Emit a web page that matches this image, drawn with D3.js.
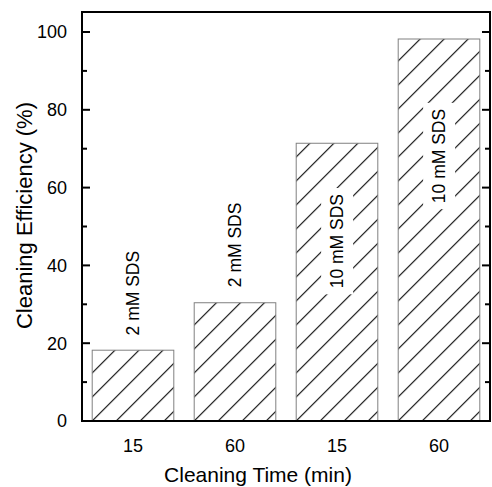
<!DOCTYPE html>
<html>
<head>
<meta charset="utf-8">
<script src="https://cdn.jsdelivr.net/npm/d3@7"></script>
<style>
  body { margin: 0; background: #fff; }
  svg text { font-family: "Liberation Sans", Arial, sans-serif; fill: #000; }
</style>
</head>
<body>
<svg id="chart"></svg>
<script>
// Data
const categories = ['15 (2 mM)', '60 (2 mM)', '15 (10 mM)', '60 (10 mM)'];
const tickLabels = ['15', '60', '15', '60'];
const efficiency = [18.2, 30.4, 71.4, 98.2];
const barLabels = ['2 mM SDS', '2 mM SDS', '10 mM SDS', '10 mM SDS'];
// where each label starts, in % units (labels 3 and 4 sit inside the bars)
const labelStart = [22.0, 34.4, 34.1, 56.0];
const labelInside = [false, false, true, true];
const yTicks = [0, 20, 40, 60, 80, 100];
const yMinorTicks = [10, 30, 50, 70, 90];

const width = 492, height = 487;
const margin = {top: 12, right: 2, bottom: 66, left: 82};

const svg = d3.select('#chart')
    .attr('width', width)
    .attr('height', height);

const x = d3.scaleBand()
    .domain(categories)
    .range([margin.left, width - margin.right])
    .paddingInner(0.2)
    .paddingOuter(0.1);

const y = d3.scaleLinear()
    .domain([0, 100])
    .range([421, 32]);

// Hatch pattern per bar, anchored at the bar's lower-left corner
const defs = svg.append('defs');
categories.forEach((c, i) => {
  const p = defs.append('pattern')
      .attr('id', 'hatch' + i)
      .attr('patternUnits', 'userSpaceOnUse')
      .attr('width', 24)
      .attr('height', 24)
      .attr('x', x(c))
      .attr('y', y(0));
  p.append('path')
      .attr('d', 'M-6,6L6,-6M0,24L24,0M18,30L30,18')
      .attr('stroke', '#000')
      .attr('stroke-width', 1.1)
      .attr('fill', 'none');
});

// Bars
svg.append('g').selectAll('rect')
    .data(efficiency)
    .join('rect')
    .attr('x', (d, i) => x(categories[i]))
    .attr('y', d => y(d))
    .attr('width', x.bandwidth())
    .attr('height', d => y(0) - y(d))
    .attr('fill', (d, i) => `url(#hatch${i})`)
    .attr('stroke', '#808080')
    .attr('stroke-width', 1);

// Bar labels
const labels = svg.append('g');
barLabels.forEach((t, i) => {
  const cx = x(categories[i]) + x.bandwidth() / 2;
  const g = labels.append('g')
      .attr('transform', `translate(${cx},${y(labelStart[i])}) rotate(-90)`);
  const bg = g.append('rect').attr('fill', '#fff');
  const txt = g.append('text')
      .attr('x', 0)
      .attr('y', 0)
      .attr('dy', '0.35em')
      .attr('font-size', 17.5)
      .text(t);
  if (labelInside[i]) {
    const b = txt.node().getBBox();
    bg.attr('x', b.x - 6).attr('y', b.y - 6)
      .attr('width', b.width + 12).attr('height', b.height + 12);
  } else {
    bg.remove();
  }
});

// Frame
svg.append('rect')
    .attr('x', margin.left)
    .attr('y', margin.top)
    .attr('width', width - margin.right - margin.left)
    .attr('height', y(0) - margin.top)
    .attr('fill', 'none')
    .attr('stroke', '#000')
    .attr('stroke-width', 2);

// Y axis ticks (left and right, pointing inward)
const xl = margin.left, xr = width - margin.right;
const ticks = svg.append('g').attr('stroke', '#000').attr('stroke-width', 2);
yTicks.forEach(v => {
  ticks.append('line').attr('x1', xl).attr('x2', xl + 8).attr('y1', y(v)).attr('y2', y(v));
  ticks.append('line').attr('x1', xr).attr('x2', xr - 8).attr('y1', y(v)).attr('y2', y(v));
});
yMinorTicks.forEach(v => {
  ticks.append('line').attr('x1', xl).attr('x2', xl + 5).attr('y1', y(v)).attr('y2', y(v));
  ticks.append('line').attr('x1', xr).attr('x2', xr - 5).attr('y1', y(v)).attr('y2', y(v));
});

svg.append('g').selectAll('text')
    .data(yTicks)
    .join('text')
    .attr('x', xl - 15)
    .attr('y', d => y(d))
    .attr('dy', '0.35em')
    .attr('text-anchor', 'end')
    .attr('font-size', 18)
    .text(d => d);

// X tick labels
svg.append('g').selectAll('text')
    .data(categories)
    .join('text')
    .attr('x', d => x(d) + x.bandwidth() / 2)
    .attr('y', 452)
    .attr('text-anchor', 'middle')
    .attr('font-size', 18)
    .text((d, i) => tickLabels[i]);

// Axis titles
svg.append('text')
    .attr('x', 258)
    .attr('y', 482)
    .attr('text-anchor', 'middle')
    .attr('font-size', 21)
    .text('Cleaning Time (min)');

svg.append('text')
    .attr('transform', `translate(32,${(margin.top + 421) / 2 - 1}) rotate(-90)`)
    .attr('text-anchor', 'middle')
    .attr('font-size', 22)
    .text('Cleaning Efficiency (%)');
</script>
</body>
</html>
